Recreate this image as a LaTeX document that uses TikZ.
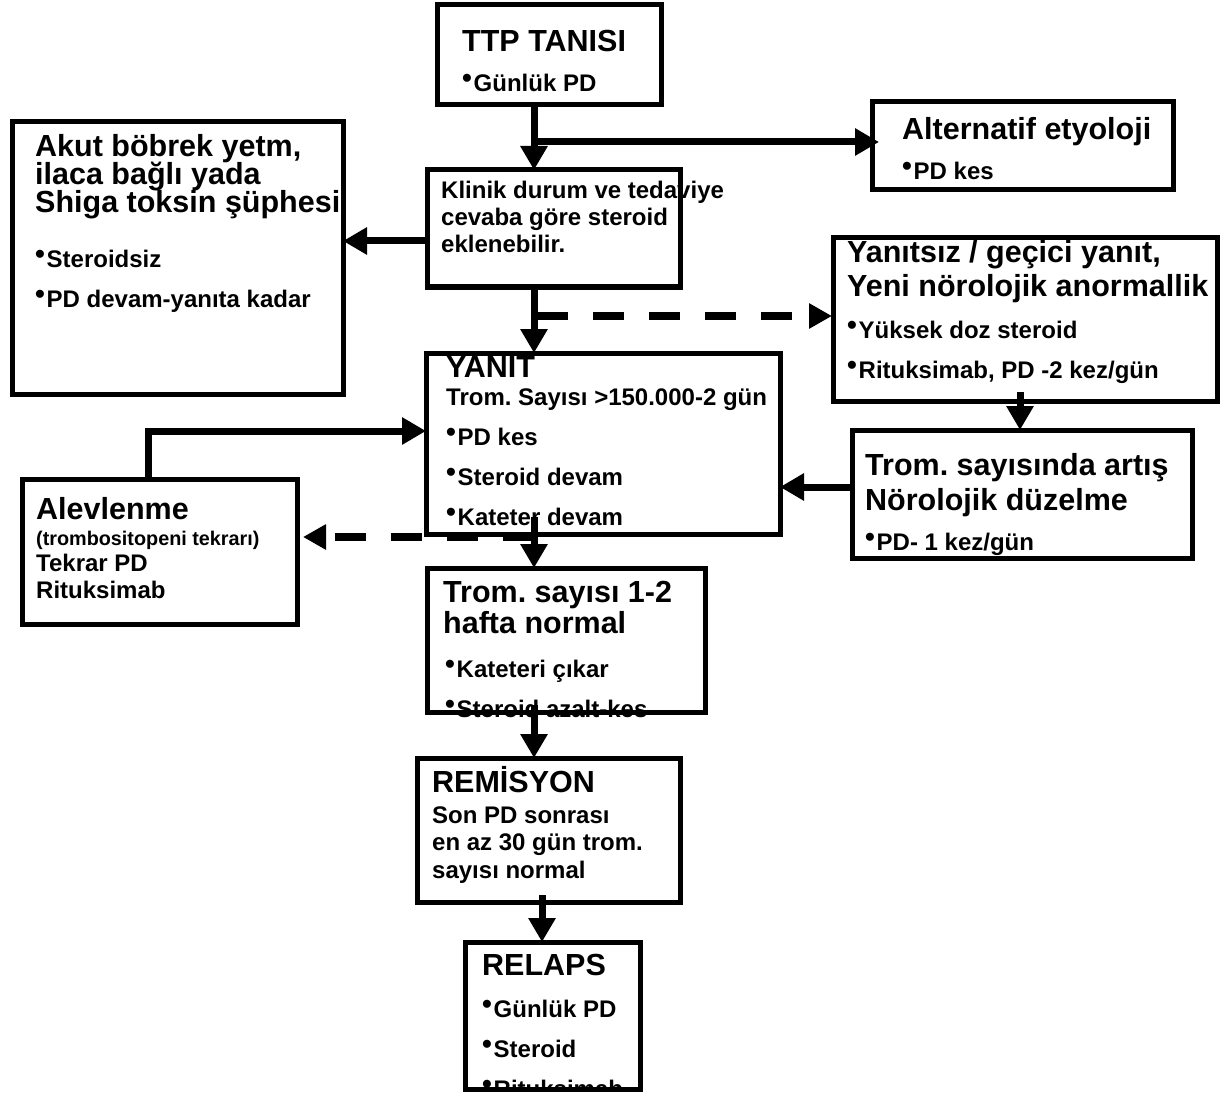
\documentclass[tikz,border=0pt]{standalone}
\usepackage{fontspec}
\setmainfont{Liberation Sans}
\usetikzlibrary{arrows.meta}
\frenchspacing
\newcommand\tbul{\makebox[11.5pt][l]{\fontsize{28}{28}\selectfont\raisebox{4pt}{•}}}
\begin{document}
\begin{tikzpicture}[x=1pt,y=-1pt,
 hd/.style={anchor=base west, inner sep=0pt, font=\fontsize{30.5}{30.5}\selectfont\bfseries},
 bd/.style={anchor=base west, inner sep=0pt, font=\fontsize{24}{24}\selectfont\bfseries},
 sm/.style={anchor=base west, inner sep=0pt, font=\fontsize{19.8}{20}\selectfont\bfseries},
 box/.style={draw, line width=5pt, rectangle, inner sep=0pt, outer sep=0pt},
 arr/.style={line width=7pt, -{Triangle[length=24pt,width=26pt]}},
 darr/.style={line width=8pt, dash pattern=on 31pt off 25pt, -{Triangle[length=23pt,width=24pt]}}]
\path[use as bounding box] (0,0) rectangle (1224,1102);

% ---- texts ----
\node[hd] (t1) at (462,52) {TTP TANISI};
\node[bd] (t2) at (462,92) {\tbul Günlük PD};

\node[hd] (t3) at (902,140) {Alternatif etyoloji};
\node[bd] (t4) at (902,180) {\tbul PD kes};

\node[bd] (t5) at (441,199) {Klinik durum ve tedaviye};
\node[bd] (t6) at (441,226) {cevaba göre steroid};
\node[bd] (t7) at (441,253) {eklenebilir.};

\node[hd] (t8) at (35,157) {Akut böbrek yetm,};
\node[hd] (t9) at (35,185) {ilaca bağlı yada};
\node[hd] (t10) at (35,213) {Shiga toksin şüphesi};
\node[bd] (t11) at (35,268) {\tbul Steroidsiz};
\node[bd] (t12) at (35,307) {\tbul PD devam-yanıta kadar};

\node[hd] (t13) at (847,262) {Yanıtsız / geçici yanıt,};
\node[hd] (t14) at (847,297) {Yeni nörolojik anormallik};
\node[bd] (t15) at (847,338) {\tbul Yüksek doz steroid};
\node[bd] (t16) at (847,378) {\tbul Rituksimab, PD -2 kez/gün};

\node[hd] (t17) at (446,377) {YANIT};
\node[bd] (t18) at (446,405) {Trom. Sayısı >150.000-2 gün};
\node[bd] (t19) at (446,445) {\tbul PD kes};
\node[bd] (t20) at (446,485) {\tbul Steroid devam};
\node[bd] (t21) at (446,525) {\tbul Kateter devam};

\node[hd] (t22) at (865,475) {Trom. sayısında artış};
\node[hd] (t23) at (865,510) {Nörolojik düzelme};
\node[bd] (t24) at (865,550) {\tbul PD- 1 kez/gün};

\node[hd] (t25) at (36,519) {Alevlenme};
\node[sm] (t26) at (36,545) {(trombositopeni tekrarı)};
\node[bd] (t27) at (36,571) {Tekrar PD};
\node[bd] (t28) at (36,598) {Rituksimab};

\node[hd] (t29) at (443,602) {Trom. sayısı 1-2};
\node[hd] (t30) at (443,633) {hafta normal};
\node[bd] (t31) at (445,677) {\tbul Kateteri çıkar};
\node[bd] (t32) at (445,717) {\tbul Steroid azalt-kes};

\node[hd] (t33) at (432,792) {REMİSYON};
\node[bd] (t34) at (432,823) {Son PD sonrası};
\node[bd] (t35) at (432,850) {en az 30 gün trom.};
\node[bd] (t36) at (432,878) {sayısı normal};

\begin{scope}
\clip (465,942) rectangle (640,1089);
\node[hd] (t37) at (482,975) {RELAPS};
\node[bd] (t38) at (482,1017) {\tbul Günlük PD};
\node[bd] (t39) at (482,1057) {\tbul Steroid};
\node[bd] (t40) at (482,1097) {\tbul Rituksimab};
\end{scope}

% ---- boxes ----
\node[box, minimum width=224pt, minimum height=100pt] (ttp) at (549,55) {};
\node[box, minimum width=253pt, minimum height=117pt] (klin) at (553.5,228.5) {};
\node[box, minimum width=301pt, minimum height=88pt] (alt) at (1022.5,146) {};
\node[box, minimum width=331pt, minimum height=272pt] (akut) at (177.5,258) {};
\node[box, minimum width=384pt, minimum height=163pt] (yans) at (1025,319.5) {};
\node[box, minimum width=354pt, minimum height=181pt] (yanit) at (603,443.5) {};
\node[box, minimum width=340pt, minimum height=128pt] (artis) at (1022,494) {};
\node[box, minimum width=275pt, minimum height=145pt] (alev) at (159.5,551.5) {};
\node[box, minimum width=278pt, minimum height=144pt] (norm) at (566,640) {};
\node[box, minimum width=263pt, minimum height=144pt] (rem) at (548.5,830) {};
\node[box, minimum width=175pt, minimum height=147pt] (rel) at (552.5,1015.5) {};

% ---- connectors ----
\coordinate (xa) at (534,142);
\draw[arr] (ttp.south -| xa) -- (klin.north -| xa);
\draw[arr] ([xshift=-3pt]xa) -- ([xshift=7pt]alt.west |- xa);
\coordinate (xc) at (0,241);
\draw[arr] (klin.west |- xc) -- (akut.east |- xc);
\draw[arr] (klin.south -| xa) -- (yanit.north -| xa);
\coordinate (xd) at (537,316);
\draw[darr] (xd) -- ([xshift=-1pt]yans.west |- xd);
\coordinate (xe) at (148,431);
\draw[arr] (alev.north -| xe) -- (xe) -- (yanit.west |- xe);
\coordinate (xf) at (1020,392);
\draw[arr] (xf) -- (artis.north -| xf);
\coordinate (xg) at (0,487);
\draw[arr] (artis.west |- xg) -- (yanit.east |- xg);
\coordinate (xh) at (534,517);
\draw[arr] (xh) -- (norm.north -| xh);
\coordinate (xi) at (534,537);
\draw[darr] (xi) -- ([xshift=6pt]alev.east |- xi);
\coordinate (xj) at (534,705);
\draw[arr] (xj) -- (rem.north -| xj);
\coordinate (xk) at (542,895);
\draw[arr] (xk) -- (rel.north -| xk);
\end{tikzpicture}
\end{document}
